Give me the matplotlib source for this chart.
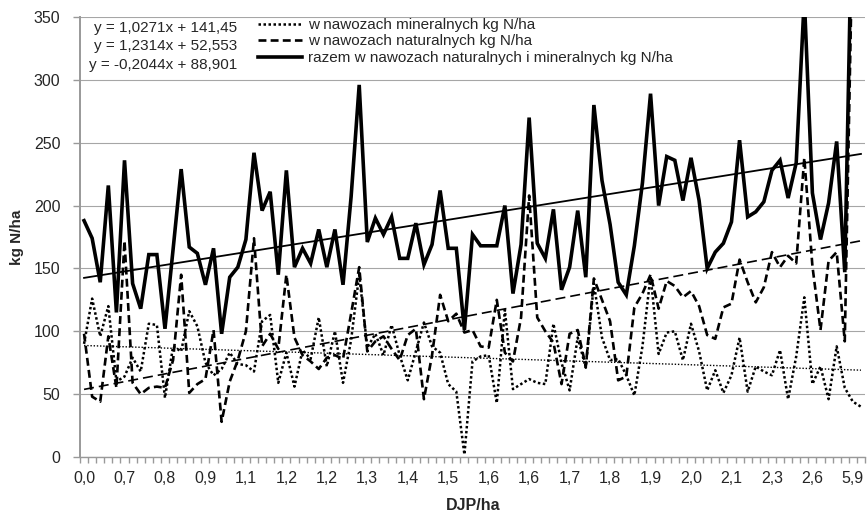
import numpy as np
import matplotlib
matplotlib.use('Agg')
import matplotlib.pyplot as plt

plt.rcParams['font.family'] = ['Liberation Sans', 'DejaVu Sans']

# ---------------- data ----------------
tick_labels = ["0,0", "0,7", "0,8", "0,9", "1,1", "1,2", "1,2", "1,3", "1,4", "1,5",
               "1,6", "1,6", "1,7", "1,8", "1,9", "2,0", "2,1", "2,3", "2,6", "5,9"]
label_every = 5

mineral = [90, 126, 96, 120, 60, 64, 79, 68, 106, 105,
           47, 88, 84, 116, 104, 75, 65, 70, 83, 74,
           73, 68, 108, 113, 59, 83, 56, 85, 78, 111,
           72, 100, 59, 93, 145, 87, 98, 81, 105, 81,
           61, 84, 107, 88, 83, 58, 52, 2, 76, 80,
           81, 43, 117, 54, 58, 62, 59, 58, 106, 75,
           53, 95, 71, 138, 95, 77, 78, 65, 49, 88,
           144, 82, 99, 100, 77, 106, 84, 53, 69, 51,
           65, 95, 52, 72, 68, 65, 85, 46, 80, 127,
           58, 72, 46, 88, 55, 44, 40]

natural = [98, 48, 44, 96, 55, 172, 59, 50, 55, 56,
           55, 77, 145, 51, 58, 62, 101, 28, 60, 77,
           100, 174, 88, 98, 86, 145, 95, 81, 76, 70,
           79, 81, 78, 114, 151, 84, 92, 96, 86, 77,
           97, 102, 46, 81, 129, 108, 114, 99, 101, 88,
           87, 125, 83, 76, 111, 208, 111, 100, 91, 58,
           98, 101, 72, 142, 125, 108, 61, 64, 119, 130,
           145, 118, 140, 136, 127, 132, 120, 97, 94, 119,
           122, 157, 139, 123, 135, 163, 151, 160, 154, 238,
           152, 101, 156, 163, 92, 428, 420]

total = [188, 174, 139, 216, 115, 236, 138, 118, 161, 161,
         102, 165, 229, 167, 162, 137, 166, 98, 143, 151,
         173, 242, 196, 211, 145, 228, 151, 166, 154, 181,
         151, 181, 137, 207, 296, 171, 190, 177, 191, 158,
         158, 186, 153, 169, 212, 166, 166, 101, 177, 168,
         168, 168, 200, 130, 169, 270, 170, 158, 197, 133,
         151, 196, 143, 280, 220, 185, 139, 129, 168, 218,
         289, 200, 239, 236, 204, 238, 204, 150, 163, 170,
         187, 252, 191, 195, 203, 228, 236, 206, 234, 365,
         210, 173, 202, 251, 147, 472, 460]

series_labels = ["w nawozach mineralnych kg N/ha",
                 "w nawozach naturalnych kg N/ha",
                 "razem w nawozach naturalnych i mineralnych kg N/ha"]

# trend lines: total, natural, mineral
trend_slope = [1.0271, 1.2314, -0.2044]
trend_intercept = [141.45, 52.553, 88.901]

y_ticks = [0, 50, 100, 150, 200, 250, 300, 350]

# ---------------- figure ----------------
W, H = 867, 512
fig = plt.figure(figsize=(W / 100, H / 100), dpi=100)
ax = fig.add_axes([80 / W, 55 / H, 785 / W, 440 / H])

n = len(total)
x = np.arange(1, n + 1)

txt_col = '#262626'
grid_col = '#a6a6a6'

ax.set_ylim(0, 350)
ax.set_xlim(0.5, n + 0.5)
ax.set_yticks(y_ticks)
ax.yaxis.grid(True, color=grid_col, lw=0.8, zorder=0)
ax.set_axisbelow(True)

for s in ['top', 'right']:
    ax.spines[s].set_visible(False)
ax.spines['left'].set_color('#999999')
ax.spines['left'].set_linewidth(1.4)
ax.spines['bottom'].set_color('#999999')
ax.spines['bottom'].set_linewidth(1.0)

# series
l_min, = ax.plot(x, mineral, color='black', lw=1.8, linestyle=(0, (1, 1)),
                 label=series_labels[0], zorder=3)
l_nat, = ax.plot(x, natural, color='black', lw=1.9, linestyle=(0, (3, 1.6)),
                 label=series_labels[1], zorder=3)
l_tot, = ax.plot(x, total, color='black', lw=2.6, linestyle='-',
                 label=series_labels[2], zorder=5, solid_joinstyle='miter')

# trend lines
xt = np.array([1, n])
ax.plot(xt, trend_slope[0] * xt + trend_intercept[0], color='black', lw=1.3, zorder=4)
ax.plot(xt, trend_slope[1] * xt + trend_intercept[1], color='black', lw=1.2,
        linestyle=(0, (6, 3)), zorder=4)
ax.plot(xt, trend_slope[2] * xt + trend_intercept[2], color='black', lw=1.0,
        linestyle=(0, (1, 1.3)), zorder=4)

# x ticks
major_pos = x[::label_every][:len(tick_labels)]
ax.set_xticks(major_pos)
ax.set_xticklabels(tick_labels)
ax.set_xticks(np.arange(0.5, n + 1.0, 1.0), minor=True)
ax.tick_params(axis='x', which='major', length=0, pad=10, labelsize=11.5, labelcolor=txt_col)
ax.tick_params(axis='x', which='minor', length=4, width=1, color='#999999')
ax.tick_params(axis='y', which='major', length=5, width=1, color='#999999',
               pad=9, labelsize=11.5, labelcolor=txt_col)

# axis titles
fig.text(17 / W, 1 - 237 / H, "kg N/ha", rotation=90, ha='center', va='center',
         fontsize=11, fontweight='bold', color=txt_col)
fig.text(473 / W, 1 - 506 / H, "DJP/ha", ha='center', va='center',
         fontsize=11.5, fontweight='bold', color=txt_col)

# trend equations
def fmt(v):
    return f"{v:g}".replace('.', ',')

eq_rows_y = [28, 46, 65]
for k in range(3):
    s = f"y = {fmt(trend_slope[k])}x + {fmt(trend_intercept[k])}"
    fig.text(237 / W, 1 - eq_rows_y[k] / H, s, ha='right', va='center',
             fontsize=11, color=txt_col)

# legend
leg = fig.legend([l_min, l_nat, l_tot], series_labels, loc='upper left',
                 bbox_to_anchor=(258 / W, 1 - 18 / H), frameon=False,
                 borderpad=0, borderaxespad=0, handlelength=2.9,
                 handletextpad=0.4, labelspacing=0.16, fontsize=11)
for t in leg.get_texts():
    t.set_color(txt_col)

fig.savefig('out.png', dpi=100)
